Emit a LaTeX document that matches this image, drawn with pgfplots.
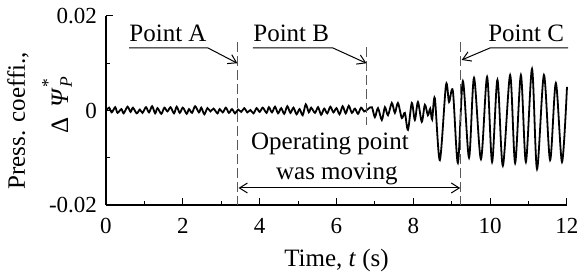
\documentclass[border=0pt]{standalone}
\usepackage{fontspec}
\setmainfont{Liberation Serif}
\usepackage{pgfplots}
\pgfplotsset{compat=1.18}
\usetikzlibrary{arrows.meta}
\pgfplotstableread{
t v
0.00 0.0000
0.08 0.0006
0.15 -0.0004
0.24 0.0007
0.30 -0.0005
0.40 0.0003
0.46 -0.0006
0.56 0.0008
0.64 -0.0003
0.70 0.0006
0.80 -0.0006
0.88 0.0002
0.95 -0.0005
1.04 0.0007
1.12 -0.0004
1.20 0.0009
1.28 -0.0006
1.34 0.0005
1.44 -0.0007
1.52 0.0006
1.60 -0.0002
1.68 0.0007
1.77 -0.0006
1.84 0.0008
1.92 -0.0005
2.00 0.0006
2.10 -0.0007
2.16 0.0003
2.24 -0.0005
2.32 0.0009
2.42 -0.0004
2.48 0.0006
2.56 -0.0008
2.64 0.0005
2.72 -0.0002
2.80 0.0004
2.90 -0.0006
2.96 0.0003
3.04 -0.0004
3.12 0.0006
3.20 -0.0005
3.28 0.0003
3.36 -0.0006
3.44 0.0002
3.52 -0.0003
3.60 0.0005
3.68 -0.0004
3.76 0.0001
3.84 -0.0006
3.92 0.0005
4.00 -0.0003
4.08 0.0006
4.18 -0.0005
4.24 0.0007
4.32 -0.0004
4.40 0.0008
4.48 -0.0006
4.56 0.0005
4.64 -0.0007
4.72 0.0009
4.80 -0.0005
4.88 0.0006
4.96 -0.0008
5.04 0.0003
5.12 -0.0010
5.20 0.0013
5.28 -0.0004
5.34 0.0006
5.44 -0.0005
5.52 0.0007
5.60 -0.0009
5.68 0.0004
5.76 -0.0006
5.84 0.0008
5.92 -0.0004
6.00 0.0005
6.08 -0.0008
6.16 0.0009
6.24 -0.0006
6.32 0.0010
6.40 -0.0005
6.48 0.0004
6.56 -0.0007
6.64 0.0006
6.72 -0.0002
6.82 0.0003
6.92 0.0007
7.00 -0.0014
7.08 0.0005
7.18 -0.0020
7.26 0.0007
7.34 -0.0010
7.44 0.0016
7.52 -0.0005
7.60 0.0016
7.70 -0.0016
7.78 -0.0005
7.86 -0.0041
7.96 0.0016
8.04 -0.0020
8.12 0.0018
8.22 -0.0024
8.30 0.0012
8.38 -0.0010
8.44 0.0004
8.49 -0.0019
8.56 0.0026
8.69 -0.0105
8.85 0.0054
8.93 0.0018
9.03 0.0041
9.16 -0.0111
9.29 0.0062
9.45 -0.0100
9.58 0.0069
9.76 -0.0103
9.92 0.0071
10.05 -0.0109
10.19 0.0065
10.33 -0.0117
10.52 0.0075
10.65 -0.0111
10.80 0.0075
10.93 -0.0109
11.09 0.0088
11.22 -0.0124
11.40 0.0075
11.56 -0.0105
11.71 0.0058
11.87 -0.0109
12.00 0.0050
}\signal
\begin{document}
\begin{tikzpicture}
\begin{axis}[
  scale only axis, width=230.5pt, height=94.5pt,
  xmin=0, xmax=12, ymin=-0.02, ymax=0.02,
  axis lines=left, axis line style={-, line width=0.6pt},
  xtick={0,2,4,6,8,10,12}, xticklabels={0,2,4,6,8,10,12},
  minor xtick={1,3,5,7,9,11},
  ytick={-0.02,0,0.02}, yticklabels={-0.02,0,0.02},
  minor ytick={-0.01,0.01},
  scaled y ticks=false, scaled x ticks=false,
  tick align=inside, major tick length=3.5pt, minor tick length=2pt,
  tick style={black, line width=0.5pt},
  ticklabel style={font=\fontsize{11.5}{13}\selectfont},
  xticklabel style={yshift=-3pt},
  yticklabel style={xshift=-1pt},
  clip=false,
]
\coordinate (sw) at (rel axis cs:0,0);
\addplot[black, line width=0.9pt, smooth, tension=0.5] table[x=t,y=v] {\signal};
% dashed lines
\draw[gray!70!black, line width=0.5pt, dash pattern=on 5pt off 2pt] (axis cs:3.436,0.0145) -- (axis cs:3.436,-0.02);
\draw[gray!70!black, line width=0.5pt, dash pattern=on 5pt off 2pt] (axis cs:6.793,0.0134) -- (axis cs:6.793,-0.003);
\draw[gray!70!black, line width=0.5pt, dash pattern=on 5pt off 2pt] (axis cs:9.24,0.0145) -- (axis cs:9.24,-0.02);
% Point labels
\begin{scope}[font=\fontsize{12.5}{15}\selectfont]
\node[anchor=base west, inner sep=0pt] at (axis cs:0.60,0.01455) {Point A};
\draw[line width=0.5pt, -{Straight Barb[length=4pt,width=5pt]}] (axis cs:0.60,0.01323) -- (axis cs:2.655,0.01323) -- (axis cs:3.42,0.0100);
\node[anchor=base west, inner sep=0pt] at (axis cs:3.826,0.01455) {Point B};
\draw[line width=0.5pt, -{Straight Barb[length=4pt,width=5pt]}] (axis cs:3.826,0.01323) -- (axis cs:5.908,0.01323) -- (axis cs:6.78,0.0100);
\node[anchor=base west, inner sep=0pt] at (axis cs:9.94,0.01455) {Point C};
\draw[line width=0.5pt, -{Straight Barb[length=4pt,width=5pt]}] (axis cs:12.03,0.01323) -- (axis cs:9.995,0.01323) -- (axis cs:9.26,0.0107);
\node[anchor=base] at (axis cs:5.83,-0.00815) {Operating point};
\node[anchor=base] at (axis cs:6.01,-0.0145) {was moving};
\draw[line width=0.5pt, {Straight Barb[length=4pt,width=5pt]}-{Straight Barb[length=4pt,width=5pt]}] (axis cs:3.45,-0.0164) -- (axis cs:9.22,-0.0164);
\node[anchor=base] at (axis cs:6,-0.0331) {Time, \textit{t} (s)};
\node[rotate=90, anchor=center, inner sep=0pt] at (axis cs:-2.29,-0.0022) {Press. coeffi.,};
\node[rotate=90, anchor=center, inner sep=0pt] at (axis cs:-1.275,0.00116) {Δ\, \textit{Ψ}\rlap{\raisebox{0.5ex}{\textsuperscript{*}}}\textsubscript{\textit{P}}};
\end{scope}
\end{axis}
\pgfresetboundingbox
\path[use as bounding box] (sw) ++(-53pt,-34pt) rectangle ++(290pt,136.5pt);
\end{tikzpicture}
\end{document}
